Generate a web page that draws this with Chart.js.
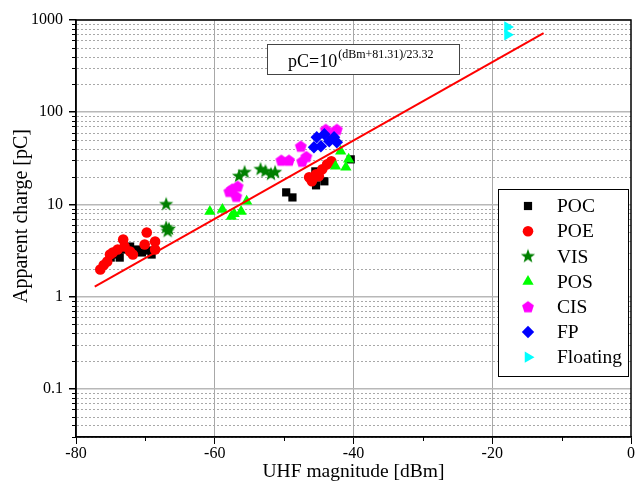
<!DOCTYPE html>
<html>
<head>
<meta charset="utf-8">
<script src="https://cdn.jsdelivr.net/npm/chart.js@4.4.1/dist/chart.umd.min.js"></script>
<style>
  html, body { margin: 0; padding: 0; background: #fff; }
  #wrap { width: 638px; height: 484px; }
</style>
</head>
<body>
<div id="wrap"><canvas id="myChart" width="638" height="484"></canvas></div>
<script>
// values (x in dBm, y in pC)
const pocX = [-75.0, -74.0, -73.7, -73.1, -72.2, -71.2, -70.5, -69.7, -69.1, -49.7, -48.8, -45.5, -45.4, -44.2, -40.4];
const pocY = [2.65, 2.86, 2.65, 3.24, 3.49, 3.24, 3.01, 3.16, 2.86, 13.5, 11.9, 22.8, 16.1, 17.8, 30.8];

const poeX = [-76.5, -76.0, -75.5, -75.1, -74.7, -74.0, -73.2, -73.0, -72.2, -71.8, -70.1, -69.8, -68.6, -68.6, -46.4, -46.0, -45.4, -45.0, -44.5, -43.8, -43.2];
const poeY = [1.97, 2.2, 2.4, 2.86, 3.01, 3.24, 4.16, 3.49, 3.08, 2.86, 3.67, 4.96, 3.96, 3.24, 19.7, 17.8, 21.2, 20.2, 24.0, 27.2, 29.3];

const visX = [-67.0, -67.0, -66.8, -66.6, -56.5, -55.7, -53.4, -52.7, -51.9, -51.3];
const visY = [10.0, 5.6, 5.1, 5.4, 20.2, 22.3, 24.0, 22.8, 21.2, 22.3];

const posX = [-60.7, -58.9, -57.6, -57.2, -56.2, -55.4, -42.6, -41.85, -41.1, -40.7];
const posY = [8.4, 8.8, 7.4, 7.9, 8.4, 10.8, 25.9, 37.7, 25.3, 30.8];

const cisX = [-57.9, -57.5, -56.9, -56.7, -50.4, -49.3, -47.6, -47.4, -46.8, -44.0, -43.1, -42.4];
const cisY = [13.8, 14.6, 12.2, 15.7, 30.1, 30.1, 42.7, 29.3, 33.0, 65.0, 57.6, 65.0];

const fpX = [-45.7, -45.3, -44.7, -44.2, -43.5, -42.8, -42.4];
const fpY = [41.7, 53.5, 42.7, 57.7, 48.4, 53.5, 47.2];

const floatX = [-17.8, -17.8];
const floatY = [840, 690];

// fitted line end points
const fitX = [-77.3, -12.6];
const fitY = [1.28, 720];

const xTickLabels = [-80, -60, -40, -20, 0];
const xMinorTicks = [-70, -50, -30, -10];
const yTickLabels = [0.1, 1, 10, 100, 1000];
const yMinorFactors = [2, 3, 4, 5, 6, 7, 8, 9];
const yMin = 0.03, yMax = 1000;

const serif = '"Liberation Serif", "Times New Roman", serif';

const yMinorTicks = [];
[0.01, 0.1, 1, 10, 100].forEach(d => {
  yMinorFactors.forEach(f => {
    const v = Number((d * f).toPrecision(6));
    if (v >= yMin && v < yMax) yMinorTicks.push(v);
  });
});

function zip(xs, ys) {
  return xs.map((x, i) => ({ x: x, y: ys[i] }));
}

function makeMarker(size, draw) {
  const c = document.createElement('canvas');
  c.width = size;
  c.height = size;
  draw(c.getContext('2d'), size / 2);
  return c;
}

function polygon(g, c, pts, color) {
  g.beginPath();
  pts.forEach((p, i) => (i ? g.lineTo(c + p[0], c + p[1]) : g.moveTo(c + p[0], c + p[1])));
  g.closePath();
  g.fillStyle = color;
  g.fill();
}

const starImg = makeMarker(16, (g, c) => {
  const pts = [];
  for (let i = 0; i < 10; i++) {
    const r = i % 2 ? 3.1 : 7.5;
    const a = -Math.PI / 2 + i * Math.PI / 5;
    pts.push([r * Math.cos(a), r * Math.sin(a)]);
  }
  polygon(g, c, pts, '#008000');
});

const pentaImg = makeMarker(14, (g, c) => {
  const pts = [];
  for (let i = 0; i < 5; i++) {
    const a = -Math.PI / 2 + i * 2 * Math.PI / 5;
    pts.push([6.2 * Math.cos(a), 6.2 * Math.sin(a) + 0.5]);
  }
  polygon(g, c, pts, '#ff00ff');
});

function pointSet(label, xs, ys, color, style, radius, order, rotation) {
  return {
    label: label,
    data: zip(xs, ys),
    backgroundColor: color,
    borderColor: color,
    borderWidth: 0,
    pointStyle: style,
    pointRadius: radius,
    pointRotation: rotation || 0,
    order: order
  };
}

const datasets = [
  pointSet('POC', pocX, pocY, '#000000', 'rect', 5.8, 7),
  pointSet('POE', poeX, poeY, '#ff0000', 'circle', 5.3, 6),
  pointSet('VIS', visX, visY, '#008000', starImg, 7, 5),
  pointSet('POS', posX, posY, '#00ff00', 'triangle', 6.5, 4),
  pointSet('CIS', cisX, cisY, '#ff00ff', pentaImg, 6, 3),
  pointSet('FP', fpX, fpY, '#0000ff', 'rectRot', 6.2, 2),
  pointSet('Floating', floatX, floatY, '#00ffff', 'triangle', 6.5, 1, 90),
  {
    label: 'fit',
    data: zip(fitX, fitY),
    showLine: true,
    borderColor: '#ff0000',
    borderWidth: 2,
    pointRadius: 0,
    fill: false,
    order: 0
  }
];

const decor = {
  id: 'decor',
  beforeDatasetsDraw(chart) {
    const { ctx, chartArea: a, scales: { x, y } } = chart;
    ctx.save();
    ctx.lineWidth = 1;
    ctx.strokeStyle = '#a8a8a8';
    ctx.setLineDash([2, 2]);
    yMinorTicks.forEach(v => {
      const py = Math.round(y.getPixelForValue(v)) + 0.5;
      ctx.beginPath();
      ctx.moveTo(a.left + 1, py);
      ctx.lineTo(a.right, py);
      ctx.stroke();
    });
    ctx.setLineDash([]);
    ctx.strokeStyle = '#000';
    yMinorTicks.forEach(v => {
      const py = Math.round(y.getPixelForValue(v)) + 0.5;
      ctx.beginPath();
      ctx.moveTo(a.left - 4, py);
      ctx.lineTo(a.left, py);
      ctx.stroke();
    });
    xMinorTicks.forEach(v => {
      const px = Math.round(x.getPixelForValue(v)) + 0.5;
      ctx.beginPath();
      ctx.moveTo(px, a.bottom);
      ctx.lineTo(px, a.bottom + 4);
      ctx.stroke();
    });
    ctx.restore();
  },
  afterDraw(chart) {
    const { ctx, chartArea: a } = chart;
    ctx.save();
    // frame
    ctx.strokeStyle = '#000';
    ctx.lineWidth = 1.5;
    ctx.strokeRect(a.left, a.top, a.right - a.left, a.bottom - a.top);

    // y axis title, sits a little above the middle in the original
    ctx.save();
    ctx.translate(22, 216);
    ctx.rotate(-Math.PI / 2);
    ctx.fillStyle = '#000';
    ctx.font = '20px ' + serif;
    ctx.textAlign = 'center';
    ctx.textBaseline = 'middle';
    ctx.fillText('Apparent charge [pC]', 0, 0);
    ctx.restore();

    // formula box
    ctx.fillStyle = '#fff';
    ctx.fillRect(267, 44, 192, 30);
    ctx.strokeStyle = '#444';
    ctx.lineWidth = 1;
    ctx.strokeRect(267.5, 44.5, 192, 30);
    ctx.fillStyle = '#000';
    ctx.textBaseline = 'alphabetic';
    ctx.font = '18px ' + serif;
    ctx.fillText('pC=10', 288, 67);
    const w = ctx.measureText('pC=10').width;
    ctx.font = '12px ' + serif;
    ctx.fillText('(dBm+81.31)/23.32', 288 + w + 1, 58);

    // legend
    ctx.fillStyle = '#fff';
    ctx.fillRect(498, 189, 130, 187);
    ctx.strokeStyle = '#000';
    ctx.lineWidth = 1;
    ctx.strokeRect(498.5, 189.5, 130, 187);
    ctx.font = '19.5px ' + serif;
    ctx.textBaseline = 'middle';
    chart.data.datasets.forEach((ds, i) => {
      if (ds.label === 'fit') return;
      const ly = 206 + i * 25.2;
      ctx.fillStyle = ds.backgroundColor;
      if (Chart.helpers && Chart.helpers.drawPoint) {
        Chart.helpers.drawPoint(ctx, {
          pointStyle: ds.pointStyle,
          radius: ds.pointRadius,
          rotation: ds.pointRotation,
          borderWidth: 0
        }, 528, ly);
      } else {
        ctx.fillRect(524, ly - 4, 8, 8);
      }
      ctx.fillStyle = '#000';
      ctx.fillText(ds.label, 557, ly + 1);
    });
    ctx.restore();
  }
};

new Chart(document.getElementById('myChart'), {
  type: 'scatter',
  data: { datasets: datasets },
  plugins: [decor],
  options: {
    responsive: false,
    animation: false,
    devicePixelRatio: 1,
    layout: { padding: { left: 10, right: 4, top: 20, bottom: 0 } },
    plugins: {
      legend: { display: false },
      tooltip: { enabled: false }
    },
    scales: {
      x: {
        type: 'linear',
        min: -80,
        max: 0,
        afterBuildTicks: s => { s.ticks = xTickLabels.map(v => ({ value: v })); },
        afterFit: s => {
          s.height = 47;
          s.paddingLeft = 0;
          s.paddingRight = 0;
        },
        ticks: {
          autoSkip: false,
          maxRotation: 0,
          padding: 0,
          color: '#000',
          font: { family: serif, size: 16 },
          callback: v => String(v)
        },
        grid: {
          color: c => (c.tick && c.tick.value > -80 && c.tick.value < 0) ? '#a8a8a8' : 'rgba(0,0,0,0)',
          tickColor: '#000',
          tickLength: 7,
          lineWidth: 1
        },
        border: { color: '#000', width: 1.5 },
        title: {
          display: true,
          text: 'UHF magnitude [dBm]',
          color: '#000',
          font: { family: serif, size: 19.5 },
          padding: { top: 0, bottom: 0 }
        }
      },
      y: {
        type: 'logarithmic',
        min: yMin,
        max: yMax,
        afterBuildTicks: s => { s.ticks = yTickLabels.map(v => ({ value: v })); },
        afterFit: s => { s.width = 66; },
        ticks: {
          autoSkip: false,
          padding: 6,
          color: '#000',
          font: { family: serif, size: 16 },
          callback: v => String(v)
        },
        grid: {
          color: '#b8b8b8',
          tickColor: '#000',
          tickLength: 7,
          lineWidth: 1.5
        },
        border: { color: '#000', width: 1.5 },
        title: { display: false }
      }
    }
  }
});
</script>
</body>
</html>
